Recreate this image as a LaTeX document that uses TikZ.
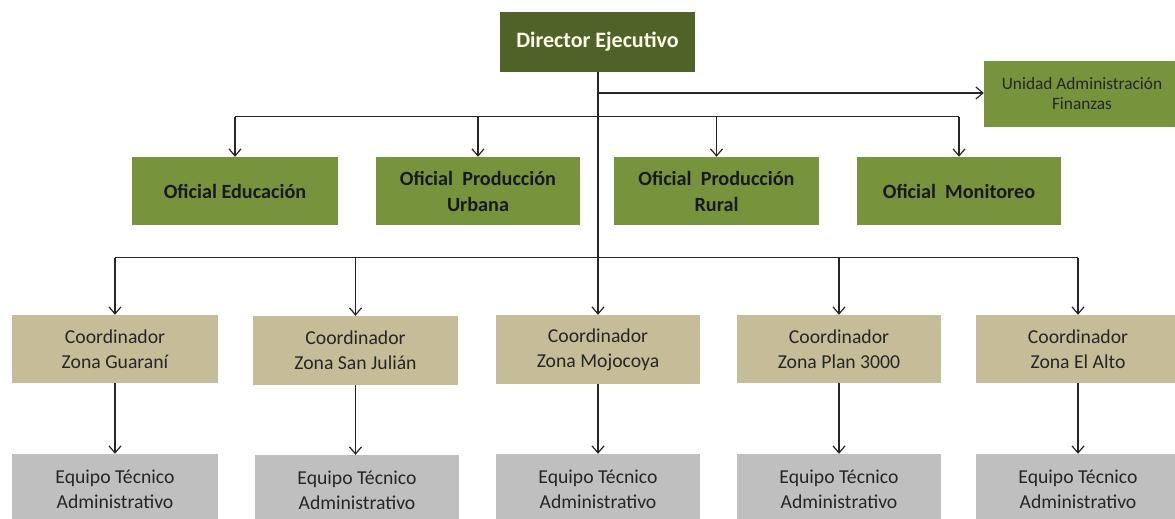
\documentclass[tikz,border=0pt]{standalone}
\usepackage{fontspec}
\setmainfont{Carlito}
\usetikzlibrary{arrows.meta}
\definecolor{dirc}{HTML}{4F6228}
\definecolor{ofc}{HTML}{77933C}
\definecolor{coc}{HTML}{C4BD97}
\definecolor{eqc}{HTML}{BFBFBF}
\definecolor{linec}{HTML}{262626}
\definecolor{txtc}{HTML}{262626}
\begin{document}
\begin{tikzpicture}[x=1pt,y=-1pt,
  box/.style={rectangle, inner sep=0pt, align=center, text=txtc},
  dirbox/.style={box, fill=dirc, text={white!92!yellow}, minimum width=195pt, minimum height=60pt, font=\fontsize{22}{26}\selectfont\bfseries},
  ofbox/.style={box, fill=ofc, text=black!90, minimum width=205pt, minimum height=68pt, font=\fontsize{20.2}{26}\selectfont\bfseries},
  uabox/.style={box, fill=ofc, minimum width=196pt, minimum height=66pt, font=\fontsize{17.3}{20}\selectfont},
  cobox/.style={box, fill=coc, minimum width=205pt, minimum height=68pt, font=\fontsize{19.7}{25}\selectfont},
  eqbox/.style={box, fill=eqc, minimum width=205pt, minimum height=70pt, font=\fontsize{19.7}{25}\selectfont},
  conn/.style={draw=linec, line width=1.2pt},
  arr/.style={conn, -{Straight Barb[length=7pt,width=12pt,line width=1.2pt]}}
]
\useasboundingbox (0,0) rectangle (1175,519);
\clip (0,0) rectangle (1175,519);

\node[dirbox] (dir) at (597.5,42) {Director Ejecutivo};
\node[uabox] (uaf) at (1082,94) {Unidad Administración\\Finanzas};

\node[ofbox, minimum width=206pt] (of1) at (235,191) {Oficial Educación};
\node[ofbox, minimum width=204pt] (of2) at (478,191) {Oficial~ Producción\\Urbana};
\node[ofbox] (of3) at (716.5,191) {Oficial~ Producción\\Rural};
\node[ofbox, minimum width=204pt] (of4) at (959,191) {Oficial~ Monitoreo};

\node[cobox, minimum width=206pt] (co1) at (115,349) {Coordinador\\Zona Guaraní};
\node[cobox, minimum height=69pt] (co2) at (355.5,350.5) {Coordinador\\Zona San Julián};
\node[cobox, minimum width=204pt, minimum height=69pt] (co3) at (598,349.5) {Coordinador\\Zona Mojocoya};
\node[cobox, minimum width=204pt] (co4) at (839,349) {Coordinador\\Zona Plan 3000};
\node[cobox] (co5) at (1078,349) {Coordinador\\Zona El Alto};

\node[eqbox, minimum width=206pt] (eq1) at (115,489) {Equipo Técnico\\Administrativo};
\node[eqbox, minimum width=204pt] (eq2) at (357,490) {Equipo Técnico\\Administrativo};
\node[eqbox, minimum width=204pt] (eq3) at (598,489) {Equipo Técnico\\Administrativo};
\node[eqbox, minimum width=204pt] (eq4) at (839,489) {Equipo Técnico\\Administrativo};
\node[eqbox] (eq5) at (1078,489) {Equipo Técnico\\Administrativo};

% junctions
\coordinate (j1) at (598,93);
\coordinate (j2) at (598,116.5);
\coordinate (j3) at (598,257.5);

% trunk
\draw[arr] (dir.south -| co3.north) -- (co3.north);
\draw[arr] (j1) -- (j1 -| uaf.west);

% row 2 bus
\draw[conn] (of1.north |- j2) -- (of4.north |- j2);
\foreach \n in {of1,of2,of3,of4}
  \draw[arr] (\n.north |- j2) -- (\n.north);

% row 3 bus
\draw[conn] (co1.north |- j3) -- (co5.north |- j3);
\foreach \n in {co1,co2,co4,co5}
  \draw[arr] (\n.north |- j3) -- (\n.north);

% coordinators to teams
\draw[arr] (co1.south) -- (co1.south |- eq1.north);
\draw[arr] (co2.south) -- (co2.south |- eq2.north);
\draw[arr] (co3.south) -- (co3.south |- eq3.north);
\draw[arr] (co4.south) -- (co4.south |- eq4.north);
\draw[arr] (co5.south) -- (co5.south |- eq5.north);
\end{tikzpicture}
\end{document}
